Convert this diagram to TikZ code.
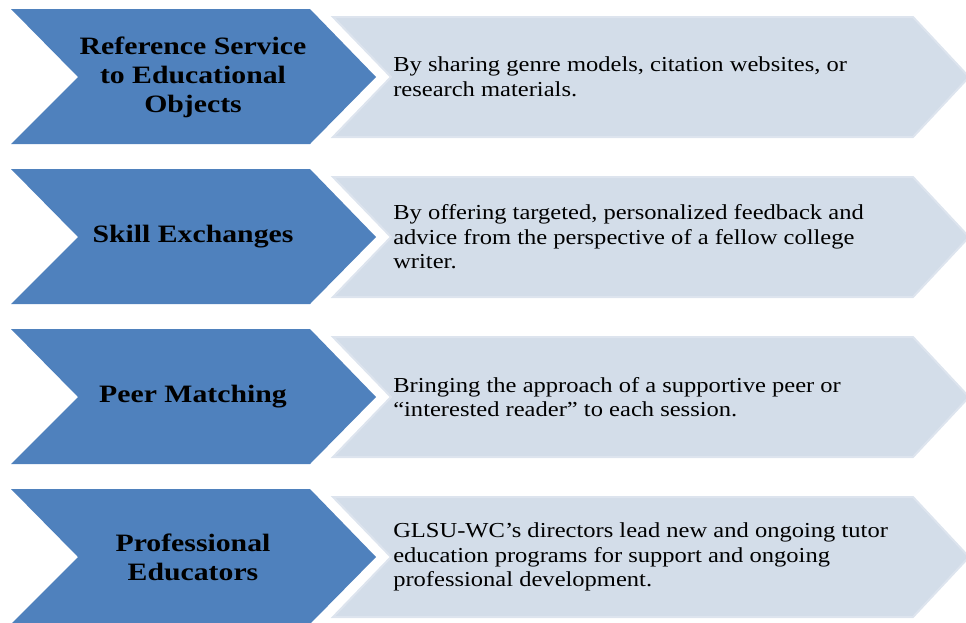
\documentclass[tikz,border=0pt]{standalone}
\usepackage{fontspec}
\setmainfont{Liberation Serif}[FakeStretch=1.19]
\newfontfamily\glsubody{Liberation Serif}[FakeStretch=1.15]
\definecolor{chevdark}{HTML}{4F81BD}
\definecolor{chevlight}{HTML}{D3DDE9}
\definecolor{chevedge}{HTML}{DDE4EE}

% One row: dark chevron with its title, light chevron with its description.
% #1 vertical offset (px), #2 node name prefix, #3 title, #4 description
\newcommand\glsurow[4]{%
  \path[darkchev] (11,{9+#1}) -- (310,{9+#1}) -- (376,{77+#1}) -- (310,{144+#1})
        -- (11,{144+#1}) -- (78,{77+#1}) -- cycle;
  \path[lightchev] (333,{17+#1}) -- (913,{17+#1}) -- (969,{77+#1}) -- (913,{137+#1})
        -- (333,{137+#1}) -- (391,{77+#1}) -- cycle;
  \node[labeltext] (#2-label) at (193,{77+#1}) {#3};
  \node[bodytext] (#2-text) at (393,{77+#1}) {#4};
}

\begin{document}
\begin{tikzpicture}[x=0.75pt,y=-0.75pt,
  darkchev/.style={fill=chevdark,draw=none},
  lightchev/.style={fill=chevlight,draw=chevedge,line width=1.5pt,line join=miter},
  labeltext/.style={font=\fontsize{18.75}{21.75}\selectfont\bfseries,align=center,inner sep=0pt,text=black},
  bodytext/.style={font=\glsubody\fontsize{16}{18.4}\selectfont,align=left,anchor=west,inner sep=0pt,text=black}]
\useasboundingbox (0,0) rectangle (966,622);
\clip (0,0) rectangle (966,622);

\glsurow{0}{ref}{Reference Service\\to Educational\\Objects}
  {By sharing genre models, citation websites, or\\research materials.}
\glsurow{160}{skill}{Skill Exchanges}
  {By offering targeted, personalized feedback and\\advice from the perspective of a fellow college\\writer.}
\glsurow{320}{peer}{Peer Matching}
  {Bringing the approach of a supportive peer or\\“interested reader” to each session.}
\glsurow{480}{prof}{Professional\\Educators}
  {GLSU-WC’s directors lead new and ongoing tutor\\education programs for support and ongoing\\professional development.}
\end{tikzpicture}
\end{document}
